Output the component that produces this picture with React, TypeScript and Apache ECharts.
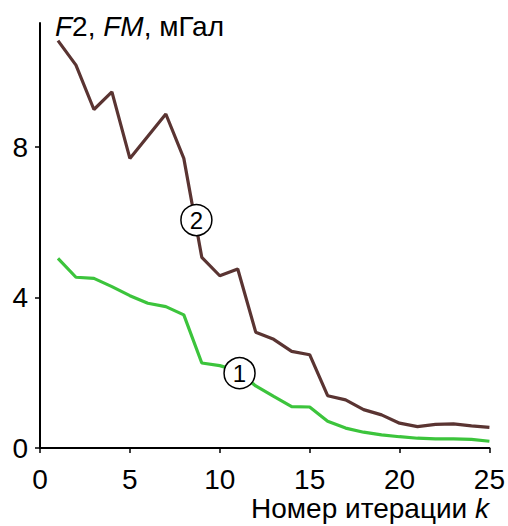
import React, { useEffect, useRef } from "react";
import * as echarts from "echarts";

const iterations = [1, 2, 3, 4, 5, 6, 7, 8, 9, 10, 11, 12, 13, 14, 15, 16, 17, 18, 19, 20, 21, 22, 23, 24, 25];
const fmValues = [10.83, 10.18, 9.0, 9.47, 7.7, 8.29, 8.88, 7.7, 5.07, 4.58, 4.76, 3.08, 2.89, 2.57, 2.48, 1.39, 1.28, 1.02, 0.88, 0.66, 0.57, 0.63, 0.64, 0.59, 0.55];
const f2Values = [5.04, 4.54, 4.51, 4.29, 4.05, 3.85, 3.76, 3.54, 2.26, 2.19, 2.05, 1.65, 1.37, 1.1, 1.09, 0.71, 0.53, 0.42, 0.35, 0.3, 0.26, 0.24, 0.24, 0.23, 0.18];
const xTicks = [0, 5, 10, 15, 20, 25];
const yTicks = [0, 4, 8];
const label1Pos = [11.1, 1.99];
const label2Pos = [8.7, 6.06];

const FONT = "'Liberation Sans', Arial, sans-serif";
const FS = 28;

export default function App() {
  const ref = useRef<HTMLDivElement>(null);
  useEffect(() => {
    if (!ref.current) return;
    const chart = echarts.init(ref.current, null, { renderer: "svg" });
    const circleMark = (pos: number[], txt: string) => ({
      symbol: "circle",
      symbolSize: 31,
      silent: true,
      data: [{ coord: pos, value: txt }],
      itemStyle: { color: "#ffffff", borderColor: "#000000", borderWidth: 1.5 },
      label: {
        show: true,
        position: "inside",
        formatter: `{c|${txt}}`,
        rich: { c: { fontSize: 24, fontFamily: FONT, color: "#000" } },
      },
    });
    const tickRich = { a: { fontSize: FS, fontFamily: FONT, color: "#000", lineHeight: FS } };
    chart.setOption({
      animation: false,
      backgroundColor: "#ffffff",
      grid: { left: 40, right: 16, top: 23, bottom: 78, containLabel: false },
      xAxis: {
        type: "value",
        min: 0,
        max: 25,
        interval: 5,
        axisLine: { show: true, lineStyle: { color: "#000", width: 2 } },
        axisTick: { show: true, length: 5, lineStyle: { color: "#000", width: 1.5 } },
        splitLine: { show: false },
        axisLabel: {
          margin: 17,
          rich: tickRich,
          formatter: (v: number) => (xTicks.includes(v) ? `{a|${v}}` : ""),
        },
      },
      yAxis: {
        type: "value",
        min: 0,
        max: 11.3,
        interval: 4,
        axisLine: { show: true, lineStyle: { color: "#000", width: 2 } },
        axisTick: { show: true, length: 5, lineStyle: { color: "#000", width: 1.5 } },
        splitLine: { show: false },
        axisLabel: {
          margin: 12,
          showMaxLabel: false,
          rich: tickRich,
          formatter: (v: number) => (yTicks.includes(v) ? `{a|${v}}` : ""),
        },
      },
      graphic: [
        {
          type: "text",
          left: 55,
          top: 12,
          style: {
            text: "{i|F}{n|2, }{i|FM}{n|, мГал}",
            fill: "#000",
            rich: {
              i: { fontStyle: "italic", fontSize: FS, fontFamily: FONT, fill: "#000" },
              n: { fontSize: FS, fontFamily: FONT, fill: "#000" },
            },
          },
        },
        {
          type: "text",
          right: 19,
          top: 494,
          style: {
            text: "{n|Номер итерации }{i|k}",
            fill: "#000",
            rich: {
              i: { fontStyle: "italic", fontSize: FS, fontFamily: FONT, fill: "#000" },
              n: { fontSize: FS, fontFamily: FONT, fill: "#000" },
            },
          },
        },
      ],
      series: [
        {
          type: "line",
          name: "FM",
          data: iterations.map((k, i) => [k, fmValues[i]]),
          showSymbol: false,
          lineStyle: { color: "#5a3432", width: 3.2 },
          itemStyle: { color: "#5a3432" },
          z: 2,
          markPoint: circleMark(label2Pos, "2"),
        },
        {
          type: "line",
          name: "F2",
          data: iterations.map((k, i) => [k, f2Values[i]]),
          showSymbol: false,
          lineStyle: { color: "#3cc43c", width: 3.2 },
          itemStyle: { color: "#3cc43c" },
          z: 2,
          markPoint: circleMark(label1Pos, "1"),
        },
      ],
    });
    return () => chart.dispose();
  }, []);
  return <div ref={ref} style={{ width: 508, height: 526, position: "absolute", left: 0, top: 0 }} />;
}
